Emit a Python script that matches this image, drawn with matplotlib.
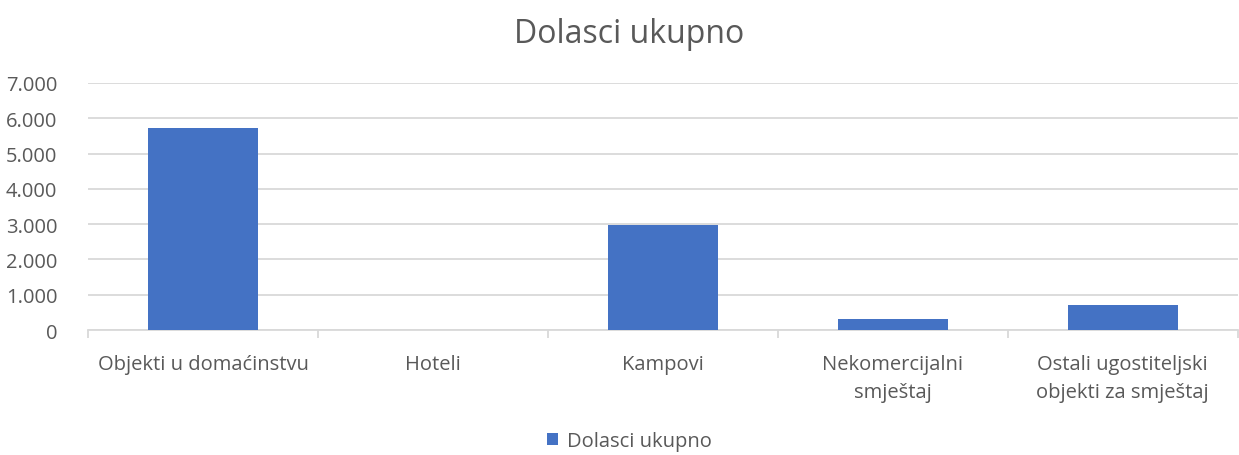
import matplotlib.pyplot as plt
from matplotlib.ticker import FuncFormatter, FixedLocator
import numpy as np

# Data
categories = ["Objekti u domaćinstvu", "Hoteli", "Kampovi",
              "Nekomercijalni\nsmještaj", "Ostali ugostiteljski\nobjekti za smještaj"]
dolasci = [5710, 0, 2980, 320, 710]
series_name = "Dolasci ukupno"

plt.rcParams['font.family'] = ['Open Sans', 'DejaVu Sans']
text_color = "#595959"
grid_color = "#d9d9d9"

fig = plt.figure(figsize=(12.39, 4.56), dpi=100)
ax = fig.add_axes([0.071, 0.274, 0.928, 0.542])

x = np.arange(len(categories))
ax.bar(x, dolasci, width=0.48, color="#4472c4", label=series_name, zorder=3)

ax.set_xlim(-0.5, len(categories) - 0.5)
ax.set_ylim(0, 7000)
ax.set_yticks(range(0, 7001, 1000))
ax.yaxis.set_major_formatter(FuncFormatter(lambda v, p: f"{int(v):,}".replace(",", ".")))
ax.grid(axis="y", color=grid_color, linewidth=1.3, zorder=0)

ax.set_xticks(x)
ax.set_xticklabels(categories, fontsize=14.5, color=text_color, linespacing=1.55)
ax.tick_params(axis="x", length=0, pad=17)
ax.xaxis.set_minor_locator(FixedLocator(np.arange(-0.5, len(categories), 1.0)))
ax.tick_params(axis="x", which="minor", length=6, color=grid_color, width=1.3)
ax.tick_params(axis="y", length=0, labelsize=14.5, labelcolor=text_color, pad=22)

for s in ["top", "right", "left"]:
    ax.spines[s].set_visible(False)
ax.spines["bottom"].set_color(grid_color)
ax.spines["bottom"].set_linewidth(1.3)

fig.suptitle("Dolasci ukupno", x=0.508, y=0.96, fontsize=23, color=text_color)

leg = fig.legend(loc="center", bbox_to_anchor=(0.508, 0.03), frameon=False,
                 fontsize=14.5, handlelength=0.55, handleheight=0.55, handletextpad=0.4)
for t in leg.get_texts():
    t.set_color(text_color)

fig.savefig("out.png", dpi=100)
